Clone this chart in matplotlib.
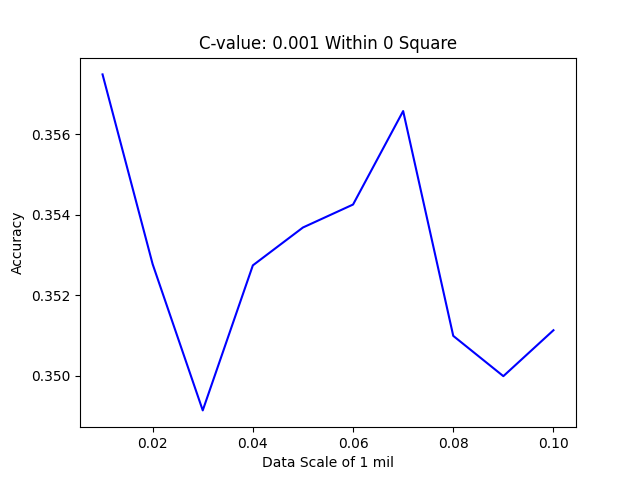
import matplotlib
matplotlib.use("Agg")
import matplotlib.pyplot as plt

scales = [0.01, 0.02, 0.03, 0.04, 0.05, 0.06, 0.07, 0.08, 0.09, 0.10]
accuracy = [0.35748, 0.35277, 0.34914, 0.35274, 0.35368, 0.35425,
            0.35657, 0.35099, 0.34999, 0.35113]

fig, ax = plt.subplots(figsize=(6.4, 4.8), dpi=100)
ax.plot(scales, accuracy, color="blue")
ax.set_title("C-value: 0.001 Within 0 Square")
ax.set_xlabel("Data Scale of 1 mil")
ax.set_ylabel("Accuracy")
fig.savefig("out.png")
